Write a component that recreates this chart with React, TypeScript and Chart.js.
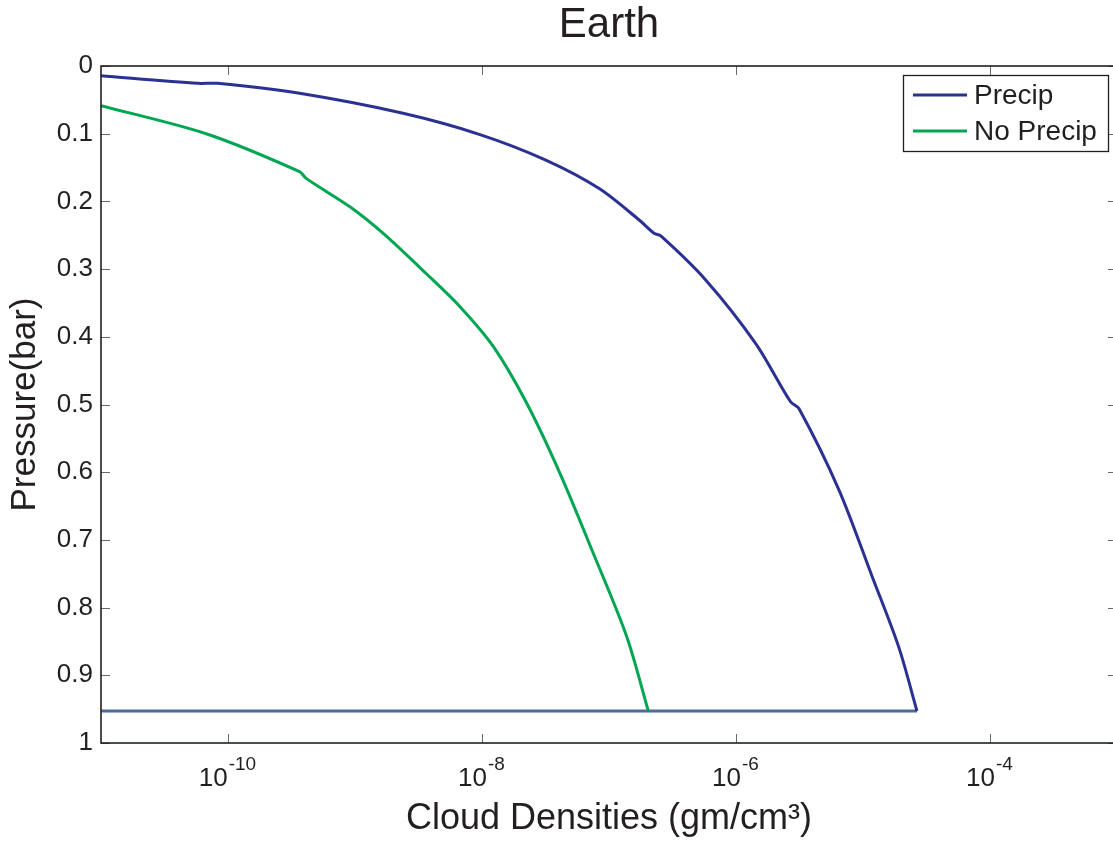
import React, { useEffect, useRef } from 'react';
import { Chart, registerables } from 'chart.js';

Chart.register(...registerables);

const FONT = '"Liberation Sans", Arial, Helvetica, sans-serif';
const TEXT = '#231f20';

const chartTitle = 'Earth';
const xAxisTitle = 'Cloud Densities (gm/cm³)';
const yAxisTitle = 'Pressure(bar)';
const seriesNames = ['Precip', 'No Precip'];
const seriesColors = ['#2b3192', '#00a651'];
const baseColor = '#4a6b9b';

const precipDensity = [
  1e-11, 5.81e-11, 8.3e-11, 3.66e-10, 2.39e-9, 9.91e-9, 3.18e-8, 8.37e-8, 1.73e-7,
  2.26e-7, 2.56e-7, 5.77e-7, 1.43e-6, 2.69e-6, 3.13e-6, 6.46e-6, 1.18e-5, 1.91e-5, 2.66e-5,
];
const precipPressure = [
  0.0143, 0.0256, 0.0256, 0.0404, 0.0699, 0.102, 0.139, 0.181, 0.2275,
  0.247, 0.251, 0.316, 0.41, 0.496, 0.506, 0.626, 0.754, 0.858, 0.9527,
];

const noPrecipDensity = [
  1e-11, 6.82e-11, 3.66e-10, 4.12e-10, 9.12e-10, 1.66e-9, 3.63e-9, 6.71e-9, 1.23e-8,
  2.25e-8, 4.11e-8, 7.52e-8, 1.38e-7, 2.04e-7,
];
const noPrecipPressure = [
  0.0586, 0.1004, 0.156, 0.166, 0.208, 0.247, 0.3065, 0.3555, 0.4146,
  0.4982, 0.6016, 0.7198, 0.843, 0.9527,
];

const baseDensity = [1e-11, 2.66e-5];
const basePressure = [0.9527, 0.9527];

const xTickValues = [1e-10, 1e-8, 1e-6, 1e-4];
const yTickValues = [0, 0.1, 0.2, 0.3, 0.4, 0.5, 0.6, 0.7, 0.8, 0.9, 1];

const toPoints = (xs: number[], ys: number[]) => xs.map((x, i) => ({ x, y: ys[i] }));

const framePlugin = {
  id: 'frameTicks',
  afterDatasetsDraw(chart: any) {
    const { ctx, chartArea: a, scales } = chart;
    const xs = scales.x;
    const ys = scales.y;
    ctx.save();
    ctx.strokeStyle = '#6a6a6a';
    ctx.lineWidth = 1;
    const tl = 9;
    ctx.beginPath();
    xs.ticks.forEach((t: any) => {
      const px = Math.round(xs.getPixelForValue(t.value)) + 0.5;
      ctx.moveTo(px, a.bottom);
      ctx.lineTo(px, a.bottom - tl);
      ctx.moveTo(px, a.top);
      ctx.lineTo(px, a.top + tl);
    });
    ys.ticks.forEach((t: any) => {
      const py = Math.round(ys.getPixelForValue(t.value)) + 0.5;
      ctx.moveTo(a.left, py);
      ctx.lineTo(a.left + tl, py);
      ctx.moveTo(a.right, py);
      ctx.lineTo(a.right - tl, py);
    });
    ctx.stroke();
    ctx.strokeStyle = TEXT;
    ctx.lineWidth = 1.6;
    ctx.strokeRect(a.left, a.top, a.right - a.left, a.bottom - a.top);

    // x tick labels with superscript exponents
    ctx.fillStyle = TEXT;
    ctx.textAlign = 'left';
    ctx.textBaseline = 'alphabetic';
    xs.ticks.forEach((t: any) => {
      const px = xs.getPixelForValue(t.value);
      const exp = String(Math.round(Math.log10(t.value)));
      ctx.font = `26px ${FONT}`;
      const bw = ctx.measureText('10').width;
      ctx.font = `19px ${FONT}`;
      const ew = ctx.measureText(exp).width;
      const x0 = px - (bw + ew) / 2 - 1;
      ctx.font = `26px ${FONT}`;
      ctx.fillText('10', x0, a.bottom + 43);
      ctx.font = `19px ${FONT}`;
      ctx.fillText(exp, x0 + bw + 1, a.bottom + 27);
    });

    // legend
    const bw2 = 205;
    const bh = 76;
    const bx = a.right - 9 - bw2;
    const by = a.top + 9;
    ctx.fillStyle = '#ffffff';
    ctx.fillRect(bx, by, bw2, bh);
    ctx.strokeStyle = TEXT;
    ctx.lineWidth = 1.3;
    ctx.strokeRect(bx + 0.5, by + 0.5, bw2, bh);
    ctx.font = `28px ${FONT}`;
    ctx.textBaseline = 'middle';
    const dsets = chart.data.datasets.slice(0, 2);
    dsets.forEach((ds: any, i: number) => {
      const ry = by + 20 + i * 36;
      ctx.strokeStyle = ds.borderColor;
      ctx.lineWidth = 3;
      ctx.beginPath();
      ctx.moveTo(bx + 10, ry);
      ctx.lineTo(bx + 64, ry);
      ctx.stroke();
      ctx.fillStyle = TEXT;
      ctx.fillText(ds.label, bx + 71, ry + 1);
    });
    ctx.restore();
  },
};

export default function App() {
  const ref = useRef<HTMLCanvasElement | null>(null);
  useEffect(() => {
    if (!ref.current) return;
    const chart = new Chart(ref.current, {
      type: 'line',
      data: {
        datasets: [
          {
            label: seriesNames[0],
            data: toPoints(precipDensity, precipPressure),
            borderColor: seriesColors[0],
            backgroundColor: seriesColors[0],
            borderWidth: 3,
            pointRadius: 0,
            tension: 0.3,
            fill: false,
          },
          {
            label: seriesNames[1],
            data: toPoints(noPrecipDensity, noPrecipPressure),
            borderColor: seriesColors[1],
            backgroundColor: seriesColors[1],
            borderWidth: 3,
            pointRadius: 0,
            tension: 0.3,
            fill: false,
          },
          {
            label: 'base',
            data: toPoints(baseDensity, basePressure),
            borderColor: baseColor,
            backgroundColor: baseColor,
            borderWidth: 3,
            pointRadius: 0,
            fill: false,
          },
        ],
      },
      options: {
        responsive: false,
        animation: false,
        layout: { padding: { left: 0, right: 1, top: 0, bottom: 0 } },
        plugins: {
          legend: { display: false },
          tooltip: { enabled: false },
          title: {
            display: true,
            text: chartTitle,
            fullSize: false,
            color: TEXT,
            font: { family: FONT, size: 42, weight: 'normal' },
            padding: { top: 0, bottom: 15.6 },
          },
        },
        scales: {
          x: {
            type: 'logarithmic',
            min: 1e-11,
            max: 1e-3,
            afterBuildTicks: (s: any) => {
              s.ticks = xTickValues.map((v) => ({ value: v }));
            },
            afterFit: (s: any) => {
              s.height = 99;
            },
            grid: { display: false, drawTicks: false },
            border: { display: false },
            ticks: { display: false },
            title: {
              display: true,
              text: xAxisTitle,
              color: TEXT,
              font: { family: FONT, size: 36 },
              padding: { top: 0, bottom: 1 },
            },
          },
          y: {
            type: 'linear',
            min: 0,
            max: 1,
            reverse: true,
            afterBuildTicks: (s: any) => {
              s.ticks = yTickValues.map((v) => ({ value: v }));
            },
            afterFit: (s: any) => {
              s.width = 101;
            },
            grid: { display: false, drawTicks: false },
            border: { display: false },
            ticks: {
              color: TEXT,
              padding: 8,
              font: { family: FONT, size: 26 },
              callback: (v: any) => String(Math.round(Number(v) * 10) / 10),
            },
            title: {
              display: true,
              text: yAxisTitle,
              color: TEXT,
              font: { family: FONT, size: 35 },
              padding: { top: 4, bottom: 0 },
            },
          },
        },
      },
      plugins: [framePlugin],
    } as any);
    return () => chart.destroy();
  }, []);
  return (
    <div
      style={{
        position: 'absolute',
        left: 0,
        top: 0,
        width: 1113,
        height: 842,
        overflow: 'hidden',
        background: '#ffffff',
      }}
    >
      <canvas ref={ref} width={1118} height={842} style={{ display: 'block', width: 1118, height: 842 }} />
    </div>
  );
}
